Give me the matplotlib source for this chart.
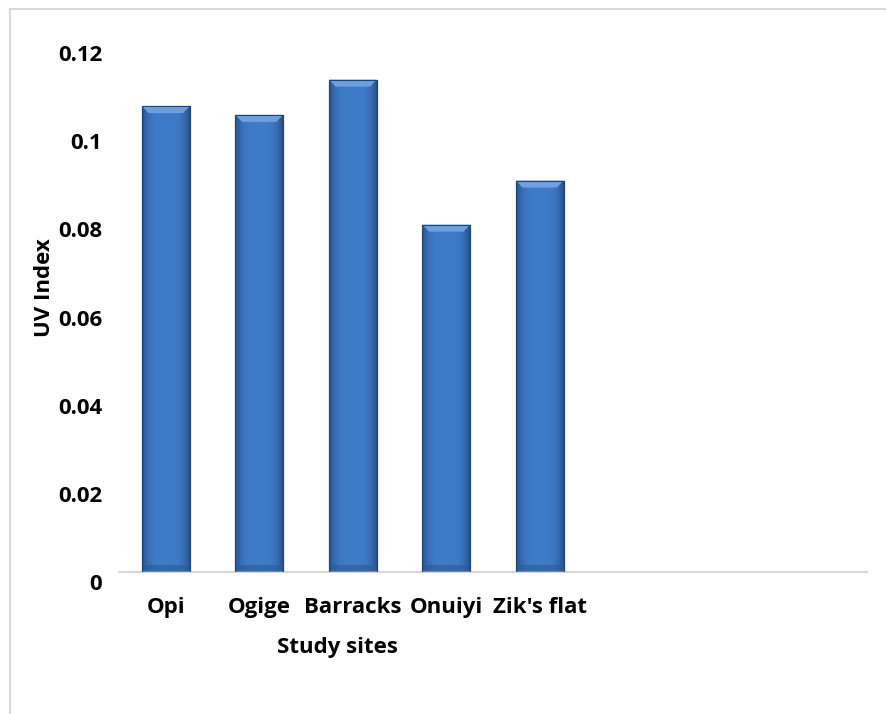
import numpy as np
import matplotlib
matplotlib.use("Agg")
import matplotlib.pyplot as plt
import matplotlib.transforms as mtransforms
from matplotlib.patches import Polygon
from matplotlib.lines import Line2D

plt.rcParams['font.family'] = ['Open Sans', 'DejaVu Sans']
plt.rcParams['font.weight'] = 'bold'

sites = ["Opi", "Ogige", "Barracks", "Onuiyi", "Zik's flat"]
uv_index = [0.1057, 0.1037, 0.1117, 0.0788, 0.0888]
y_ticks = [0, 0.02, 0.04, 0.06, 0.08, 0.1, 0.12]
y_tick_labels = ["0", "0.02", "0.04", "0.06", "0.08", "0.1", "0.12"]

W, H = 886, 714
fig = plt.figure(figsize=(W / 100, H / 100), dpi=100)
fig.patch.set_facecolor("white")

# outer chart frame (top and left edges only)
fig.add_artist(Line2D([10 / W, 1.0], [1 - 9 / H, 1 - 9 / H], color="#D9D9D9", lw=1.5))
fig.add_artist(Line2D([10 / W, 10 / W], [0.0, 1 - 9 / H], color="#D9D9D9", lw=1.5))

ax = fig.add_axes([119 / W, 1 - 572 / H, (867 - 119) / W, (572 - 43) / H])
ax.set_xlim(-0.5, 7.5)
ax.set_ylim(0, 0.12)
for s in ["top", "right", "left"]:
    ax.spines[s].set_visible(False)
ax.spines["bottom"].set_color("#D9D9D9")
ax.spines["bottom"].set_linewidth(1.6)

x = np.arange(len(sites))
bar_w = 0.51
bars = ax.bar(x, uv_index, width=bar_w, color="#3C78C3",
              edgecolor="#1F4477", linewidth=0.8, zorder=2)

# vertical shading inside each bar: darker at the edges, lighter in the middle
grad = np.linspace(-1, 1, 64)
shade = 1 - 0.35 * grad ** 4
base = np.array([0x3E, 0x7B, 0xC9]) / 255.0
img = np.clip(shade[None, :, None] * base[None, None, :], 0, 1)
img = np.repeat(img, 2, axis=0)
for b, v in zip(bars, uv_index):
    x0 = b.get_x()
    x1 = x0 + b.get_width()
    im = ax.imshow(img, extent=[x0, x1, 0, v], aspect="auto", zorder=2.5,
                   interpolation="bicubic")
    im.set_clip_path(b)
    # darker band toward the base
    ax.fill_between([x0, x1], 0, 0.0015, color="#2B5A96", alpha=0.6, zorder=2.6, lw=0)
    # bevelled top face
    dx = b.get_width() * 0.14
    dy = 0.0016
    ax.add_patch(Polygon([[x0, v], [x1, v], [x1 - dx, v - dy], [x0 + dx, v - dy]],
                         closed=True, facecolor="#6E9FE0", edgecolor="none", zorder=2.7))
    ax.add_patch(Polygon([[x0, v], [x1, v], [x1, 0], [x0, 0]], closed=True,
                         facecolor="none", edgecolor="#1F4477", lw=0.8, zorder=2.8))

fs = 16
ax.set_xticks(x)
ax.set_xticklabels(sites, fontsize=fs, fontweight="bold")
ax.tick_params(axis="x", length=0, pad=18)
ax.set_yticks(y_ticks)
ax.set_yticklabels(y_tick_labels, fontsize=fs, fontweight="bold")
ax.tick_params(axis="y", length=0, pad=12)
shift = mtransforms.ScaledTranslation(0, -10 / 100, fig.dpi_scale_trans)
for lab in ax.get_yticklabels():
    lab.set_transform(lab.get_transform() + shift)

fig.text(337 / W, 1 - 647 / H, "Study sites", ha="center", va="center",
         fontsize=fs, fontweight="bold")
fig.text(44 / W, 1 - 288 / H, "UV Index", ha="center", va="center",
         rotation=90, fontsize=fs, fontweight="bold")

fig.savefig("out.png", dpi=100, facecolor="white")
